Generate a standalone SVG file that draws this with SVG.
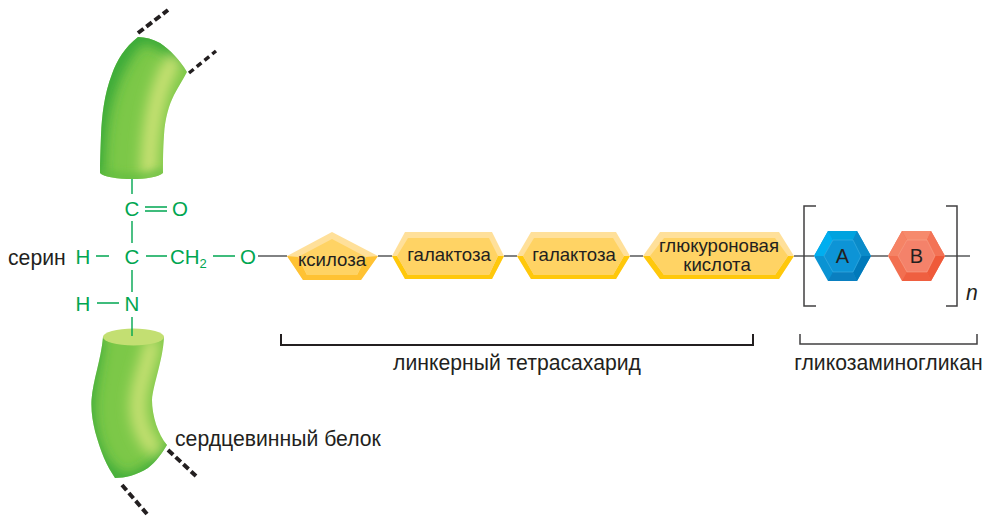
<svg xmlns="http://www.w3.org/2000/svg" width="987" height="520" viewBox="0 0 987 520">
  <style>
    text { font-family: "Liberation Sans", Arial, sans-serif; fill: #231f20; font-size: 21.2px; }
    .m { text-anchor: middle; }
    .sugar { font-size: 18.6px; }
    .chem { fill: #00a651; font-size: 20.5px; }
    .bond { stroke: #00a651; stroke-width: 1.4; fill: none; }
    .link { stroke: #58595b; stroke-width: 1.6; fill: none; }
    .dash { stroke: #231f20; stroke-width: 4; stroke-dasharray: 7 3.5; fill: none; }
    .brk { stroke: #414042; stroke-width: 1.5; fill: none; }
    .y0 { fill: #ffd364; }
    .y1 { fill: #ffe09a; }
    .y2 { fill: #ffc80b; }
    .y3 { fill: #ffc233; }
    .hi { fill: none; stroke: #cfe377; stroke-linecap: round; }
    .lo { fill: none; stroke: #2ba336; stroke-linecap: round; }
  </style>
  <defs>
    <filter id="soft" filterUnits="userSpaceOnUse" x="50" y="0" width="180" height="520"><feGaussianBlur stdDeviation="7"/></filter>
    <filter id="softer" filterUnits="userSpaceOnUse" x="50" y="0" width="180" height="520"><feGaussianBlur stdDeviation="4"/></filter>
    <clipPath id="clipTop">
      <path d="M138 37C125 47 117 60 112 74C104 95 102 115 101 135C100.500 150 100 160 100 173C104 177 118 179 132 179C146 179 158 177 163 173C163 160 163 150 164 135C165 118 169 105 174 95C178 87 183 80 187 72C180 60 170 50 160 43C153 39 145 37 138 37Z"/>
    </clipPath>
    <clipPath id="clipLow">
      <path d="M103 337C101 360 93 380 91.500 400C90.500 420 97 440 104 458C107 465 111 472 115 478C125 478 137 475 148 468C156 462 162 453 167 445C158 435 152 415 152 400C153 385 163 360 164 337C150 329 118 329 103 337Z"/>
    </clipPath>
  </defs>

  <!-- upper protein segment -->
  <g id="protein-top">
    <path class="dash" d="M138 33L168 10"/>
    <path class="dash" style="stroke-width:3.4;stroke-dasharray:6 4" d="M189 73L216 51"/>
    <g clip-path="url(#clipTop)">
      <rect x="90" y="30" width="105" height="155" fill="#7cc848"/>
      <path class="lo" stroke-width="14" filter="url(#soft)" d="M96 175C96 120 105 70 140 34C155 36 170 45 180 56"/>
      <path class="hi" stroke-width="16" filter="url(#soft)" d="M173 62C158 85 150 125 149 172"/>
      <path d="M100 172Q132 184 163 172" stroke="#5cba3c" stroke-width="6" fill="none" filter="url(#softer)"/>
    </g>
  </g>

  <!-- lower protein segment -->
  <g id="protein-bottom">
    <path class="dash" d="M168 450L196 476"/>
    <path class="dash" d="M122 485L147 514"/>
    <g clip-path="url(#clipLow)">
      <rect x="85" y="325" width="90" height="160" fill="#7cc848"/>
      <path class="lo" stroke-width="12" filter="url(#soft)" d="M96 340C92 375 82 400 90 435C95 455 105 475 125 482C140 482 160 465 170 450"/>
      <path class="hi" stroke-width="15" filter="url(#soft)" d="M152 345C148 365 138 385 138 405C138 425 146 440 154 448"/>
    </g>
    <ellipse cx="133.500" cy="337" rx="30.500" ry="8.500" fill="#c3df72"/>
  </g>

  <!-- bonds and chain links -->
  <g id="connectors">
    <path class="bond" d="M132 179V194M132 221V243M132 270V292M132 317V336M145 207H167M145 211H167M96 256H109M146 256H167M213 256H235M97 303H119"/>
    <path class="link" d="M258 256H287M378 256H392M504 256H517M630 256H643M794 256H814M871 256H888M945 256H970"/>
  </g>

  <!-- serine residue -->
  <g id="serine">
    <text x="8" y="265">серин</text>
    <text class="chem m" x="132" y="216">C</text>
    <text class="chem m" x="180" y="216">O</text>
    <text class="chem m" x="83" y="264">H</text>
    <text class="chem m" x="132" y="264">C</text>
    <text class="chem" x="170" y="264">CH<tspan font-size="13" dy="4">2</tspan></text>
    <text class="chem m" x="248" y="264">O</text>
    <text class="chem m" x="83" y="311">H</text>
    <text class="chem m" x="132" y="311">N</text>
  </g>

  <g id="xylose">
    <path class="y1" d="M332 232L378 256L361 280H303L287 256Z"/>
    <path class="y3" d="M378 256L361 280H303L287 256L298 257L307 275H357L366 257Z"/>
    <path class="y0" d="M332 239L366 257L357 275H307L298 257Z"/>
    <text class="sugar m" x="332" y="266">ксилоза</text>
  </g>

  <g id="galactose-1">
    <path class="y1" d="M392 256L405 232H492L504 256L492 279H405Z"/>
    <path class="y2" d="M392 256L405 279H492L504 256L498 256L489 275H408L397 256Z"/>
    <path class="y0" d="M397 256L408 238H489L498 256L489 275H408Z"/>
    <text class="sugar m" x="449" y="261">галактоза</text>
  </g>

  <g id="galactose-2">
    <path class="y1" d="M517 256L531 232H616L630 256L616 279H531Z"/>
    <path class="y2" d="M517 256L531 279H616L630 256L624 256L613 275H534L523 256Z"/>
    <path class="y0" d="M523 256L534 238H613L624 256L613 275H534Z"/>
    <text class="sugar m" x="574" y="261">галактоза</text>
  </g>

  <g id="glucuronic-acid">
    <path class="y1" d="M643 256L660 232H779L794 256L779 279H660Z"/>
    <path class="y2" d="M643 256L660 279H779L794 256L788 256L775 275H664L650 256Z"/>
    <path class="y0" d="M650 256L664 238H775L788 256L775 275H664Z"/>
    <text class="sugar m"><tspan x="719" y="252">глюкуроновая</tspan><tspan x="717" y="271">кислота</tspan></text>
  </g>

  <g id="unit-a">
    <path d="M814 256L828 231H857L871 256L857 281H828Z" fill="#0a93d3"/>
    <path d="M828 231H857L853 240H833Z" fill="#00a3df"/>
    <path d="M814 256L828 231L833 240L824 256Z" fill="#00aeef"/>
    <path d="M857 231L871 256H861L853 240Z" fill="#0a8bc9"/>
    <path d="M871 256L857 281L853 272L861 256Z" fill="#0079ba"/>
    <path d="M828 281H857L853 272H833Z" fill="#0a7fc0"/>
    <path d="M824 256L833 240H853L861 256L853 272H833Z" fill="#0d94d6" stroke="#4db5e5" stroke-width=".5"/>
    <text class="m" x="842.500" y="263" style="font-size:20px">A</text>
  </g>

  <g id="unit-b">
    <path d="M888 256L902 231H931L945 256L931 281H902Z" fill="#f26f50"/>
    <path d="M902 231H931L927 240H907Z" fill="#f68a6c"/>
    <path d="M888 256L902 231L907 240L898 256Z" fill="#f58365"/>
    <path d="M931 231L945 256H935L927 240Z" fill="#f37356"/>
    <path d="M945 256L931 281L927 272L935 256Z" fill="#ef5a3a"/>
    <path d="M902 281H931L927 272H907Z" fill="#ef5f40"/>
    <path d="M898 256L907 240H927L935 256L927 272H907Z" fill="#f4826a" stroke="#f9a890" stroke-width=".5"/>
    <text class="m" x="916.500" y="263" style="font-size:20px">B</text>
  </g>

  <!-- repeat brackets and range labels -->
  <g id="repeat-bracket">
    <path class="brk" d="M816 206H804V306H816M946 206H957V306H946"/>
    <text x="966" y="300" style="font-style:italic">n</text>
  </g>
  <g id="linker-label">
    <path d="M281 334V345H753V334" fill="none" stroke="#231f20" stroke-width="2"/>
    <text class="m" x="517" y="370">линкерный тетрасахарид</text>
  </g>
  <g id="gag-label">
    <path d="M800 334V344H977V334" fill="none" stroke="#414042" stroke-width="1.500"/>
    <text class="m" x="888.500" y="370">гликозаминогликан</text>
  </g>
  <text x="175" y="446">сердцевинный белок</text>
</svg>
